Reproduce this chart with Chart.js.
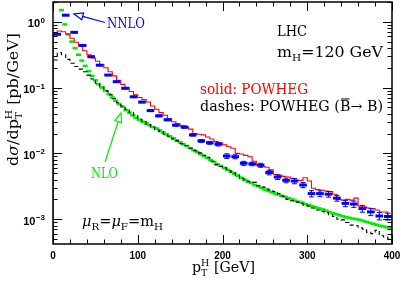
<!DOCTYPE html>
<html>
<head>
<meta charset="utf-8">
<script src="https://cdn.jsdelivr.net/npm/chart.js@4/dist/chart.umd.min.js"></script>
<style>
html,body{margin:0;padding:0;background:#fff}
#graph{display:block}
</style>
</head>
<body>
<canvas id="graph" width="403" height="283"></canvas>
<script>

// POWHEG histograms, 5 GeV bins from 0 to 400 GeV  [pb/GeV]
let histBin=5
let powheg=[0.646,0.724,0.708,0.646,0.562,0.490,0.427,0.363,0.316,0.282,
0.251,0.224,0.200,0.174,0.151,0.129,0.112,0.100,0.0871,0.0776,
0.0708,0.0661,0.0603,0.0525,0.0468,0.0417,0.0380,0.0339,0.0302,0.0282,
0.0263,0.0251,0.0234,0.0200,0.0195,0.0191,0.0178,0.0166,0.0151,0.0145,
0.0135,0.0126,0.0120,0.0100,0.00977,0.00933,0.00891,0.00759,0.00661,0.00631,
0.00617,0.00562,0.00479,0.00468,0.00447,0.00437,0.00417,0.00389,0.00389,0.00427,
0.00380,0.00295,0.00282,0.00275,0.00269,0.00263,0.00240,0.00200,0.00195,0.00200,
0.00195,0.00209,0.00158,0.00155,0.00148,0.00145,0.00138,0.00129,0.00129,0.00112]

let powhegBB=[0.263,0.339,0.316,0.269,0.234,0.209,0.191,0.174,0.155,0.135,
0.117,0.102,0.0891,0.0776,0.0676,0.0589,0.0525,0.0468,0.0417,0.0372,
0.0331,0.0302,0.0275,0.0251,0.0229,0.0214,0.0195,0.0182,0.0166,0.0155,
0.0141,0.0132,0.0120,0.0110,0.0102,0.00933,0.00871,0.00759,0.00676,0.00631,
0.00603,0.00550,0.00513,0.00468,0.00417,0.00398,0.00372,0.00363,0.00324,0.00309,
0.00288,0.00269,0.00263,0.00245,0.00224,0.00200,0.00191,0.00182,0.00174,0.00162,
0.00158,0.00148,0.00138,0.00132,0.00126,0.00117,0.00110,0.00100,0.000977,0.000891,
0.000813,0.000794,0.000741,0.000708,0.000631,0.000603,0.000676,0.000562,0.000537,0.000501]

// NNLO, 10 GeV bins, relative errors
let nnloBin=10
let nnlo=[0.646,1.26,0.692,0.437,0.295,0.219,0.155,0.123,0.0977,0.0724,
0.0603,0.0447,0.0372,0.0324,0.0269,0.0251,0.0191,0.0155,0.0145,0.0138,
0.00912,0.00891,0.00708,0.00692,0.00661,0.00513,0.00437,0.00389,0.00380,0.00331,
0.00245,0.00245,0.00240,0.00209,0.00174,0.00170,0.00145,0.00129,0.00112,0.00110]
let nnloErr=[0.01,0.01,0.01,0.01,0.01,0.015,0.015,0.02,0.02,0.02,
0.025,0.03,0.03,0.03,0.035,0.04,0.04,0.05,0.05,0.06,
0.08,0.07,0.07,0.06,0.07,0.08,0.08,0.08,0.09,0.09,
0.11,0.10,0.10,0.10,0.11,0.11,0.12,0.12,0.13,0.12]

// NLO, 4 GeV bins starting at 8 GeV
let nloStart=8
let nloBin=4
let nlo=[1.51,0.912,0.646,0.501,0.398,0.316,0.257,0.214,0.178,0.151,
0.129,0.112,0.100,0.0891,0.0794,0.0708,0.0631,0.0562,0.0513,0.0457,
0.0417,0.0380,0.0347,0.0324,0.0302,0.0285,0.0269,0.0251,0.0240,0.0224,
0.0209,0.0195,0.0182,0.0170,0.0158,0.0148,0.0138,0.0129,0.0120,0.0112,
0.0105,0.00977,0.00912,0.00851,0.00794,0.00741,0.00684,0.00646,0.00603,0.00562,
0.00525,0.00490,0.00457,0.00427,0.00398,0.00372,0.00355,0.00331,0.00316,0.00299,
0.00282,0.00269,0.00257,0.00245,0.00237,0.00226,0.00219,0.00209,0.00200,0.00191,
0.00184,0.00178,0.00170,0.00164,0.00158,0.00151,0.00146,0.00141,0.00135,0.00129,
0.00123,0.00119,0.00115,0.00111,0.00107,0.00105,0.00102,0.00100,0.000977,0.000944,
0.000912,0.000881,0.000851,0.000822,0.000794,0.000776,0.000750,0.000724]
let nloErr=0.04

let xTicks=[0,100,200,300,400]
let yTicks=[1,0.1,0.01,0.001]
let yTickExp=["0","\u22121","\u22122","\u22123"]

let SERIF='"DejaVu Serif"'
let SANS='"Liberation Sans"'

function hist(vals,w){
let pts=[{x:0,y:1e-6}]
vals.forEach((v,i)=>pts.push({x:i*w,y:v}))
pts.push({x:vals.length*w,y:vals[vals.length-1]})
pts.push({x:vals.length*w,y:1e-6})
return pts
}

function line(ctx,x0,y0,x1,y1){
ctx.beginPath()
ctx.moveTo(x0,y0)
ctx.lineTo(x1,y1)
ctx.stroke()
}

// text made of pieces: [text,kind]  kind: sub, sup, it, bar, stack ([sup,sub])
function rich(ctx,segs,x,y,size,color,fit){
let small=Math.round(size*0.68)
let parts=segs.map(s=>{
let kind=s[1]||""
let f=kind=="sub"||kind=="sup"||kind=="stack"?small+"px "+SERIF:
kind=="it"?"italic "+size+"px "+SERIF:size+"px "+SERIF
ctx.font=f
let w=kind=="stack"?Math.max(ctx.measureText(s[0][0]).width,ctx.measureText(s[0][1]).width):ctx.measureText(s[0]).width
return {t:s[0],kind:kind,f:f,w:w}
})
let total=parts.reduce((a,p)=>a+p.w,0)
let sx=fit?fit/total:1
ctx.save()
ctx.translate(x,y)
ctx.scale(sx,1)
ctx.fillStyle=color
ctx.strokeStyle=color
ctx.textAlign="left"
ctx.textBaseline="alphabetic"
let cx=0
parts.forEach(p=>{
ctx.font=p.f
if(p.kind=="sub")ctx.fillText(p.t,cx,size*0.28)
else if(p.kind=="sup")ctx.fillText(p.t,cx,-size*0.42)
else if(p.kind=="stack"){
ctx.fillText(p.t[0],cx,-size*0.42)
ctx.fillText(p.t[1],cx,size*0.28)
}
else{
ctx.fillText(p.t,cx,0)
if(p.kind=="bar"){
ctx.lineWidth=1
line(ctx,cx+1,-size*0.86,cx+p.w-1,-size*0.86)
}
}
cx+=p.w
})
ctx.restore()
}

function arrow(ctx,x0,y0,x1,y1,color){
ctx.save()
ctx.strokeStyle=color
ctx.lineWidth=1.2
let a=Math.atan2(y1-y0,x1-x0)
let L=9,H=3.5
let bx=x1-L*Math.cos(a),by=y1-L*Math.sin(a)
line(ctx,x0,y0,bx,by)
ctx.beginPath()
ctx.moveTo(x1,y1)
ctx.lineTo(bx+H*Math.sin(a),by-H*Math.cos(a))
ctx.lineTo(bx-H*Math.sin(a),by+H*Math.cos(a))
ctx.closePath()
ctx.stroke()
ctx.restore()
}

let errorBars={
id:"errorBars",
afterDatasetDraw(chart,args){
let ds=chart.data.datasets[args.index]
if(!ds.bars)return
let ctx=chart.ctx,xs=chart.scales.x,ys=chart.scales.y,a=chart.chartArea
ctx.save()
ctx.beginPath()
ctx.rect(a.left,a.top,a.right-a.left,a.bottom-a.top)
ctx.clip()
ctx.strokeStyle=ds.borderColor
ds.data.forEach((p,i)=>{
let rel=Array.isArray(ds.bars.err)?ds.bars.err[i]:ds.bars.err
let xc=xs.getPixelForValue(p.x)
let x0=xs.getPixelForValue(p.x-ds.bars.half)
let x1=xs.getPixelForValue(p.x+ds.bars.half)
let y=ys.getPixelForValue(p.y)
let yt=ys.getPixelForValue(p.y*(1+rel))
let yb=ys.getPixelForValue(p.y*(1-rel))
ctx.lineWidth=1
line(ctx,xc,yt,xc,yb)
if(ds.bars.cap){
line(ctx,xc-ds.bars.cap,yt,xc+ds.bars.cap,yt)
line(ctx,xc-ds.bars.cap,yb,xc+ds.bars.cap,yb)
}
ctx.lineWidth=ds.bars.thick
line(ctx,x0,y,x1,y)
})
ctx.restore()
}
}

let frame={
id:"frame",
afterDraw(chart){
let ctx=chart.ctx,xs=chart.scales.x,ys=chart.scales.y,a=chart.chartArea
ctx.save()
ctx.strokeStyle="#000"
ctx.lineWidth=1
for(let v=0;v<=400;v+=20){
let px=Math.round(xs.getPixelForValue(v))+0.5
let len=v%100==0?9:4.5
line(ctx,px,a.bottom,px,a.bottom-len)
line(ctx,px,a.top,px,a.top+len)
}
for(let d=-4;d<=0;d++){
for(let m=1;m<=9;m++){
let v=m*Math.pow(10,d)
if(v<ys.min||v>ys.max)continue
let py=Math.round(ys.getPixelForValue(v))+0.5
let len=m==1?9:4.5
line(ctx,a.left,py,a.left+len,py)
line(ctx,a.right,py,a.right-len,py)
}
}
ctx.lineWidth=1.5
ctx.strokeRect(a.left,a.top,a.right-a.left,a.bottom-a.top)

ctx.fillStyle="#000"
ctx.font="bold 10px "+SANS
ctx.textAlign="center"
ctx.textBaseline="alphabetic"
xTicks.forEach(v=>ctx.fillText(String(v),xs.getPixelForValue(v),259))

yTicks.forEach((v,i)=>{
let py=ys.getPixelForValue(v)
ctx.font="bold 8px "+SANS
ctx.textAlign="right"
let ew=ctx.measureText(yTickExp[i]).width
ctx.fillText(yTickExp[i],45,py+1)
ctx.font="bold 11px "+SANS
ctx.fillText("10",45-ew-0.5,py+5.5)
})

// axis titles
rich(ctx,[["p"],[["H","T"],"stack"],[" [GeV]"]],192,272,15,"#000",63)
ctx.save()
ctx.translate(18,166)
ctx.rotate(-Math.PI/2)
rich(ctx,[["d"],["\u03c3","it"],["/dp"],[["H","T"],"stack"],[" [pb/GeV]"]],0,0,15,"#000",133)
ctx.restore()

// labels
rich(ctx,[["LHC"]],277,36,15,"#000",30)
rich(ctx,[["m"],["H","sub"],["=120 GeV"]],277,56.5,15,"#000",106)
rich(ctx,[["solid: POWHEG"]],200,94,14,"#ff0000",108)
rich(ctx,[["dashes: POWHEG ("],["B","bar"],["\u2192 B)"]],200,111,14,"#000",183)
rich(ctx,[["NNLO"]],107,28,15,"#0000ff",38)
rich(ctx,[["NLO"]],91,178,14,"#00ee00",27)
rich(ctx,[["\u03bc","it"],["R","sub"],["="],["\u03bc","it"],["F","sub"],["=m"],["H","sub"]],82,226,14,"#000",81)

arrow(ctx,105,22.5,74,14,"#0000ff")
arrow(ctx,105,162,121,113,"#00ee00")
ctx.restore()
}
}

let ctx=document.getElementById("graph").getContext("2d")

let chart=new Chart(ctx,{
type:"line",
data:{
datasets:[
{
label:"NNLO",
data:nnlo.map((v,i)=>({x:nnloBin*(i+0.5),y:v})),
borderColor:"#0000ff",
showLine:false,
pointRadius:0,
bars:{half:4.5,thick:3,cap:2.5,err:nnloErr},
order:0
},
{
label:"POWHEG",
data:hist(powheg,histBin),
borderColor:"#ff0000",
borderWidth:1.1,
pointRadius:0,
stepped:true,
fill:false,
order:1
},
{
label:"POWHEG (Bbar->B)",
data:hist(powhegBB,histBin),
borderColor:"#000000",
borderWidth:1.1,
borderDash:[4,3],
pointRadius:0,
stepped:true,
fill:false,
order:2
},
{
label:"NLO",
data:nlo.map((v,i)=>({x:nloStart+nloBin*(i+0.5),y:v})),
borderColor:"#00ee00",
showLine:false,
pointRadius:0,
bars:{half:3,thick:2.5,cap:0,err:nloErr},
order:3
}
]
},
options:{
responsive:false,
devicePixelRatio:1,
animation:false,
layout:{padding:{left:53,right:11,top:2,bottom:39}},
plugins:{legend:{display:false},tooltip:{enabled:false}},
scales:{
x:{type:"linear",min:0,max:400,display:false},
y:{type:"logarithmic",min:4.2e-4,max:2.0,display:false}
}
},
plugins:[errorBars,frame]
})

</script>
</body>
</html>
